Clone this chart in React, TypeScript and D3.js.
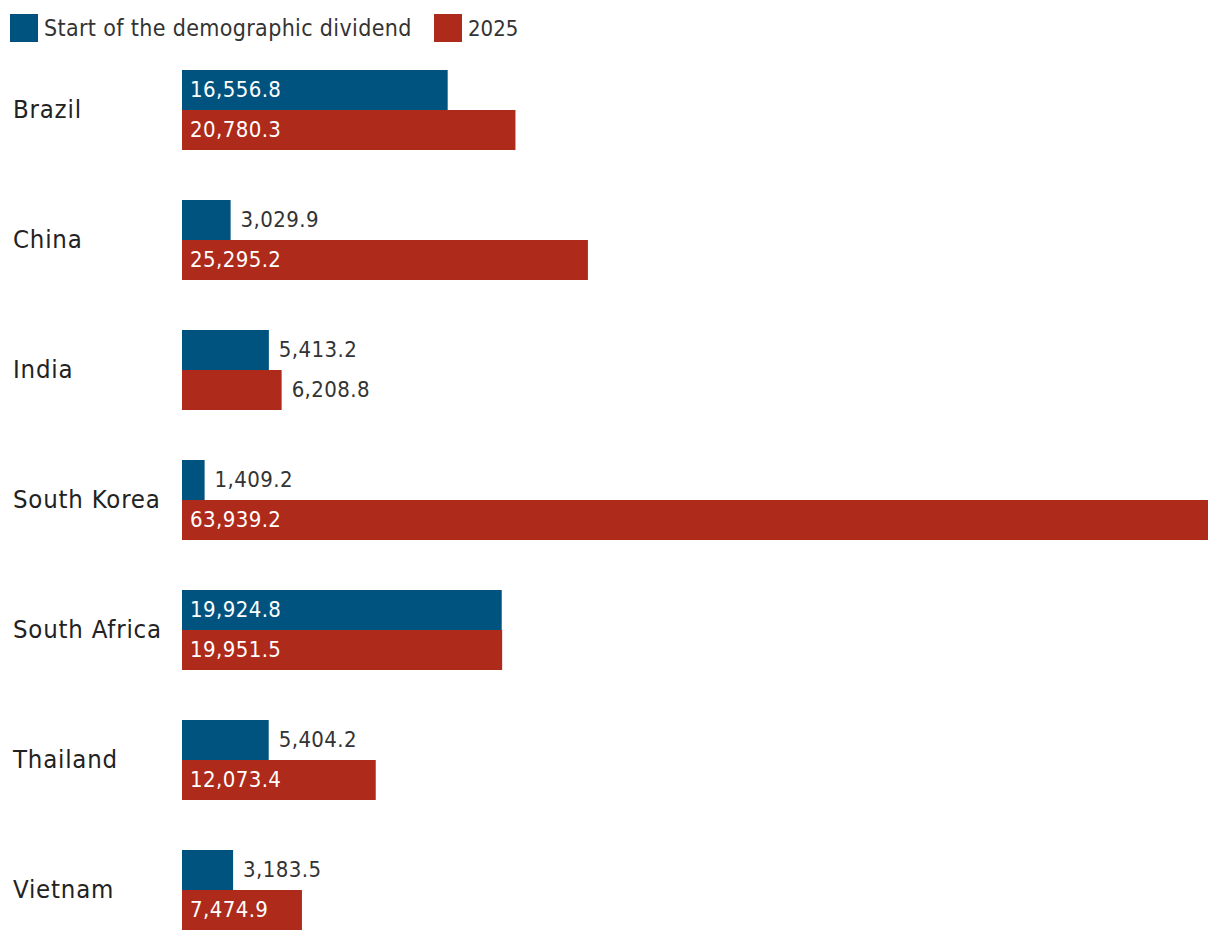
import { useMemo } from 'react';
import * as d3 from 'd3';

const countries = ['Brazil', 'China', 'India', 'South Korea', 'South Africa', 'Thailand', 'Vietnam'];
const seriesNames = ['Start of the demographic dividend', '2025'];
const startValues = [16556.8, 3029.9, 5413.2, 1409.2, 19924.8, 5404.2, 3183.5];
const values2025 = [20780.3, 25295.2, 6208.8, 63939.2, 19951.5, 12073.4, 7474.9];
const colors = ['#00537f', '#ae2a1a'];

const FONT = "'DejaVu Sans Condensed', 'DejaVu Sans', sans-serif";
const TEXT = '#333333';

const fmt = d3.format(',.1f');

const App = () => {
  const width = 1220;
  const height = 940;

  const y = useMemo(
    () => d3.scaleBand<string>().domain(countries).range([45, 955]).paddingInner(50 / 130).paddingOuter(25 / 130),
    []
  );
  const inner = useMemo(
    () => d3.scaleBand<string>().domain(seriesNames).range([0, y.bandwidth()]).padding(0),
    [y]
  );
  const x = useMemo(() => d3.scaleLinear().domain([0, d3.max(values2025) as number]).range([182, 1208]), []);

  const rows = countries.map((c, i) => ({ country: c, vals: [startValues[i], values2025[i]] }));

  return (
    <svg width={width} height={height} style={{ position: 'absolute', left: 0, top: 0 }} fontFamily={FONT}>
      {/* legend */}
      <g>
        <rect x={10} y={14} width={28} height={28} fill={colors[0]} />
        <text x={44} y={28} dy="0.36em" fontSize={23} fill={TEXT} letterSpacing={0.35}>
          {seriesNames[0]}
        </text>
        <rect x={434} y={14} width={28} height={28} fill={colors[1]} />
        <text x={468} y={28} dy="0.36em" fontSize={22} fill={TEXT} letterSpacing={0}>
          {seriesNames[1]}
        </text>
      </g>

      {rows.map((r) => {
        const y0 = y(r.country) as number;
        return (
          <g key={r.country} transform={`translate(0, ${y0})`}>
            <text x={13} y={y.bandwidth() / 2 - 1.5} dy="0.36em" fontSize={25.5} fill="#222" letterSpacing={0.8}>
              {r.country}
            </text>
            {r.vals.map((v, j) => {
              const by = inner(seriesNames[j]) as number;
              const w = x(v) - x(0);
              const inside = w >= 110;
              return (
                <g key={j}>
                  <rect x={x(0)} y={by} width={w} height={inner.bandwidth()} fill={colors[j]} />
                  <text
                    x={inside ? x(0) + 8 : x(v) + 10}
                    y={by + inner.bandwidth() / 2 - 1}
                    dy="0.36em"
                    fontSize={22}
                    fill={inside ? '#ffffff' : TEXT}
                    letterSpacing={0.4}
                  >
                    {fmt(v)}
                  </text>
                </g>
              );
            })}
          </g>
        );
      })}
    </svg>
  );
};

export default App;
